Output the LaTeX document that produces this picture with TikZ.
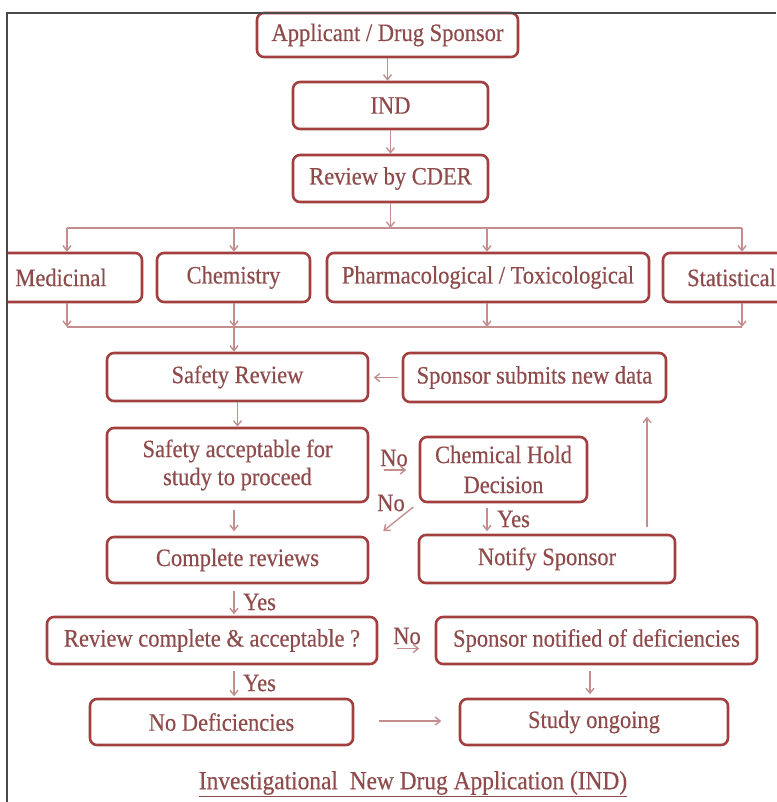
\documentclass[tikz,border=0pt]{standalone}
\usepackage{fontspec}
\setmainfont[FakeStretch=0.9,FakeBold=0.4]{Liberation Serif}
\usetikzlibrary{arrows.meta}
\definecolor{boxred}{HTML}{A3403F}
\definecolor{txtred}{HTML}{8F4B4B}
\definecolor{arrred}{HTML}{C48E8E}
\definecolor{framegray}{HTML}{4A4A4A}
\begin{document}
\begin{tikzpicture}[x=1pt,y=-1pt,
  box/.style={draw=boxred, line width=2.6pt, rounded corners=7pt, fill=white,
    text=txtred, font=\fontsize{25}{28}\selectfont, align=center, inner sep=0pt},
  lbl/.style={text=txtred, font=\fontsize{25}{28}\selectfont, inner sep=0pt},
  plain/.style={draw=arrred, line width=1.4pt},
  conn/.style={plain, -{Straight Barb[length=5pt,width=8pt]}}]
\fill[white] (0,0) rectangle (776,802);
\useasboundingbox (0,0) rectangle (776,802);

% top chain
\node[box, minimum width=261pt, minimum height=44pt] (app) at (387.5,35) {Applicant / Drug Sponsor};
\node[box, minimum width=195pt, minimum height=47pt] (ind) at (390.5,105.5) {IND};
\node[box, minimum width=195pt, minimum height=47pt] (cder) at (390.5,178.5) {Review by CDER};

% review disciplines
\begin{scope}
\clip (7,0) rectangle (776,802);
\node[box, minimum width=162pt, minimum height=49pt] (med) at (61,277.5) {Medicinal};
\end{scope}
\node[box, minimum width=153pt, minimum height=49pt] (chem) at (233.5,277.5) {Chemistry};
\node[box, minimum width=322pt, minimum height=49pt] (pharm) at (488,277.5) {Pharmacological / Toxicological};
\node[box, minimum width=137pt, minimum height=49pt] (stat) at (731.5,277.5) {Statistical};

% middle
\node[box, minimum width=261pt, minimum height=48pt] (safety) at (237.5,377) {Safety Review};
\node[box, minimum width=263pt, minimum height=49pt] (sponsor) at (534.5,377.5) {Sponsor submits new data};
\node[box, minimum width=261pt, minimum height=74pt] (accept) at (237.5,465) {Safety acceptable for\\study to proceed};
\node[box, minimum width=167pt, minimum height=65pt, font=\fontsize{25}{30}\selectfont] (hold) at (503.5,469.5) {Chemical Hold\\Decision};
\node[box, minimum width=261pt, minimum height=46pt] (complete) at (237.5,560) {Complete reviews};
\node[box, minimum width=256pt, minimum height=48pt] (notify) at (547,559) {Notify Sponsor};

% bottom
\node[box, minimum width=330pt, minimum height=47pt] (revc) at (212,640.5) {Review complete \& acceptable ?};
\node[box, minimum width=321pt, minimum height=47pt] (notified) at (596.5,640.5) {Sponsor notified of deficiencies};
\node[box, minimum width=263pt, minimum height=46pt] (nodef) at (221.5,722) {No Deficiencies};
\node[box, minimum width=268pt, minimum height=46pt] (study) at (594,722) {Study ongoing};

% title
\node[lbl, font=\fontsize{26}{28}\selectfont] (title) at (413,784) {\underline{Investigational\ \ New Drug Application (IND)}};

% connectors top
\draw[conn] (app.south) -- (app.south |- ind.north);
\draw[conn] (ind.south) -- (ind.south |- cder.north);
\coordinate (t1) at (67,228);
\coordinate (t2) at (234,228);
\coordinate (t3) at (487,228);
\coordinate (t4) at (742,228);
\draw[conn] (cder.south) -- (cder.south |- t1);
\draw[plain] (t1) -- (t4);
\draw[conn] (t1) -- (t1 |- med.north);
\draw[conn] (t2) -- (t2 |- chem.north);
\draw[conn] (t3) -- (t3 |- pharm.north);
\draw[conn] (t4) -- (t4 |- stat.north);
\coordinate (b1) at (67,327);
\coordinate (b2) at (234,327);
\coordinate (b3) at (487,327);
\coordinate (b4) at (742,327);
\draw[plain] (b1) -- (b4);
\draw[conn] (b1 |- med.south) -- (b1);
\draw[conn] (b2 |- chem.south) -- (b2);
\draw[conn] (b3 |- pharm.south) -- (b3);
\draw[conn] (b4 |- stat.south) -- (b4);
\draw[conn] (b2) -- (b2 |- safety.north);

% middle connectors
\draw[conn] (sponsor.west) ++(-4,0) -- ++(-24,0);
\draw[conn] (safety.south) -- (accept.north);
\draw[conn] (accept.south) ++(-3.5,7) -- ++(0,21);
\draw[conn] (hold.south) ++(-16.5,5) -- ++(0,23);
\node[lbl, anchor=west] (yes1) at (497,519) {Yes};
\draw[conn] (notify.north) ++(100,-7) -- ++(0,-110);
\node[lbl] (no1) at (394,458) {No};
\draw[conn] (accept.east) ++(15,5) -- ++(22,0);
\node[lbl] (no2) at (391,503) {No};
\draw[conn] (accept.east) ++(44,42) -- ++(-30,24);

% lower connectors
\draw[conn] (complete.south) ++(-3.5,7) -- ++(0,23);
\node[lbl, anchor=west] (yes2) at (243,602) {Yes};
\node[lbl] (no3) at (407,636) {No};
\draw[conn] (revc.east) ++(19,8) -- ++(22,0);
\draw[conn] (revc.south) ++(22,6) -- ++(0,25);
\node[lbl, anchor=west] (yes3) at (243,683) {Yes};
\draw[conn] (notified.south) ++(-6.5,6) -- ++(0,23);
\draw[conn] (nodef.east) ++(25,-1) -- ++(62,0);

% frame
\draw[framegray, line width=1.2pt] (7,802) -- (7,13) -- (776,13);
\end{tikzpicture}
\end{document}
